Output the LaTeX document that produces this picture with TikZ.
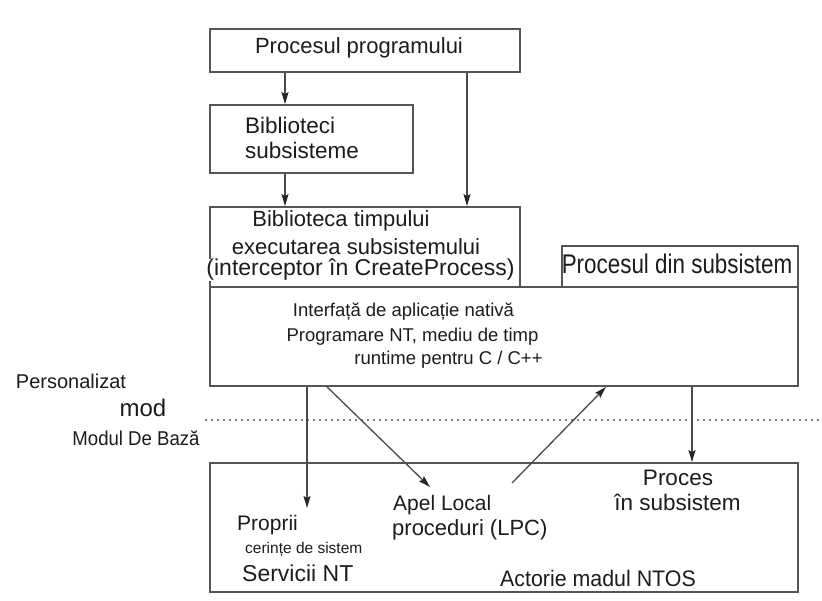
\documentclass[tikz,border=0pt]{standalone}
\usepackage{fontspec}
\setmainfont{Liberation Sans}
\usetikzlibrary{arrows.meta}
\definecolor{boxline}{HTML}{555555}
\definecolor{arrline}{HTML}{4A4A4A}
\definecolor{txt}{HTML}{1C1C1C}
\newcommand{\fs}[1]{\fontsize{#1}{#1}\selectfont}
\tikzset{
  box/.style={draw=boxline, line width=1.8pt, rectangle, inner sep=0pt},
  arr/.style={draw=arrline, line width=1.3pt, -{Stealth[length=12pt,width=7pt,inset=2pt,color=black!85]}},
  lbl/.style={text=txt, inner sep=0pt},
}
\begin{document}
\begin{tikzpicture}[x=1pt,y=-1pt]
\useasboundingbox[fill=white] (0,0) rectangle (822,601);
% boxes
\node[box, minimum width=310pt, minimum height=43pt] (b1) at (365,50.5) {};
\node[box, minimum width=203pt, minimum height=68pt] (b2) at (311.5,139) {};
\node[box, minimum width=310pt, minimum height=80pt] (b3) at (365,247) {};
\node[box, minimum width=236pt, minimum height=41pt] (b4) at (680,266.5) {};
\node[box, minimum width=588pt, minimum height=99pt] (nt) at (504,336.5) {};
\node[box, minimum width=588pt, minimum height=129pt] (bot) at (504,527.5) {};
% texts in boxes
\node[lbl, font=\fs{22}] (t1) at (359,48) {Procesul programului};
\node[lbl, font=\fs{22.5}, anchor=west] (t2a) at (245,125) {Biblioteci};
\node[lbl, font=\fs{22.5}, anchor=west] (t2b) at (245,150) {subsisteme};
\node[lbl, font=\fs{22}, fill=white] (t3a) at (341,221) {Biblioteca timpului};
\node[lbl, font=\fs{22}] (t3b) at (356,247) {executarea subsistemului};
\node[lbl, font=\fs{23}, fill=white] (t3c) at (360.5,270) {(interceptor în CreateProcess)};
\node[lbl, font=\fs{27}, xscale=0.83] (t4) at (677,264) {Procesul din subsistem};
\node[lbl, font=\fs{18.5}] (n1) at (403.5,312) {Interfață de aplicație nativă};
\node[lbl, font=\fs{18.5}] (n2) at (412.5,337) {Programare NT, mediu de timp};
\node[lbl, font=\fs{18.5}] (n3) at (448.5,360) {runtime pentru C / C++};
% left labels
\node[lbl, font=\fs{20}] (m1) at (71,381) {Personalizat};
\node[lbl, font=\fs{24}] (m2) at (143,408) {mod};
\node[lbl, font=\fs{20}, xscale=0.93] (m3) at (136,438) {Modul De Bază};
% bottom texts
\node[lbl, font=\fs{21}, anchor=west] (p1) at (237,525) {Proprii};
\node[lbl, font=\fs{15.5}, anchor=west] (p2) at (245,550) {cerințe de sistem};
\node[lbl, font=\fs{23}, anchor=west] (p3) at (242,573) {Servicii NT};
\node[lbl, font=\fs{21}, anchor=west] (a1) at (393,505) {Apel Local};
\node[lbl, font=\fs{22}, anchor=west] (a2) at (392,530) {proceduri (LPC)};
\node[lbl, font=\fs{22.5}] (s1) at (678,478) {Proces};
\node[lbl, font=\fs{22.5}] (s2) at (677.5,502) {în subsistem};
\node[lbl, font=\fs{22.5}, anchor=west, xscale=0.95] (k1) at (500,578) {Actorie madul NTOS};
% coordinates for free ends
\coordinate (tipP) at (307,508);
\coordinate (tipA) at (430,487);
\coordinate (tailA) at (512,483);
% dotted mode line
\draw[gray, line width=1.5pt, dash pattern=on 1.5pt off 4.5pt] (205,420) -- (822,420);
% connectors
\draw[arr] ([xshift=-80pt]b1.south) -- ([xshift=-26.5pt]b2.north);
\draw[arr] ([xshift=-26.5pt]b2.south) -- ([xshift=-80pt]b3.north);
\draw[arr] ([xshift=102pt]b1.south) -- ([xshift=102pt]b3.north);
\draw[arr] ([xshift=-197pt]nt.south) -- (tipP);
\draw[arr] ([xshift=-177pt]nt.south) -- (tipA);
\draw[arr] (tailA) -- ([xshift=102pt]nt.south);
\draw[arr] ([xshift=188pt]nt.south) -- ([xshift=188pt]bot.north);
\end{tikzpicture}
\end{document}
